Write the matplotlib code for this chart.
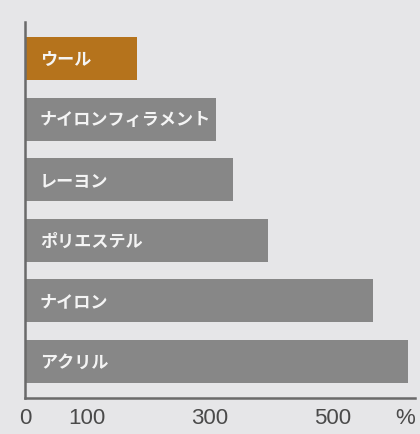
import matplotlib.pyplot as plt

fibers = ["ウール", "ナイロンフィラメント", "レーヨン", "ポリエステル", "ナイロン", "アクリル"]
values = [182, 310, 337, 395, 565, 622]
colors = ["#b5731c", "#878787", "#878787", "#878787", "#878787", "#878787"]
xticks = [0, 100, 300, 500]
xtick_labels = ["0", "100", "300", "500"]
unit_label = "%"

bg = "#e6e6e8"
tick_font = ["Liberation Sans", "DejaVu Sans"]

fig = plt.figure(figsize=(4.2, 4.34), dpi=100, facecolor=bg)
ax = fig.add_axes([25 / 420, 1 - 398 / 434, 390 / 420, 376 / 434])
ax.set_facecolor(bg)

ypos = list(range(len(fibers)))
ax.barh(ypos, values, height=0.71, color=colors, edgecolor="none")

for y, name in zip(ypos, fibers):
    ax.text(24, y + 0.02, name, color="#f4f4f4", fontsize=12.3, fontweight="bold",
            va="center", ha="left", family=["Noto Sans CJK JP", "DejaVu Sans"])

xmax = 390 / 0.616
ax.set_xlim(0, xmax)
ax.set_ylim(5.6, -0.6)
ax.set_yticks([])
# unit sign sits as an extra tick label near the right end
ax.set_xticks(xticks + [xmax - 10 / 0.616])
ax.set_xticklabels(xtick_labels + [unit_label], fontsize=16, color="#4a4a4a",
                   family=tick_font)
ax.tick_params(axis="x", length=0, pad=7)

for s in ["top", "right"]:
    ax.spines[s].set_visible(False)
for s in ["left", "bottom"]:
    ax.spines[s].set_color("#6a6a6a")
    ax.spines[s].set_linewidth(1.8)

fig.savefig("out.png", dpi=100, facecolor=bg)
